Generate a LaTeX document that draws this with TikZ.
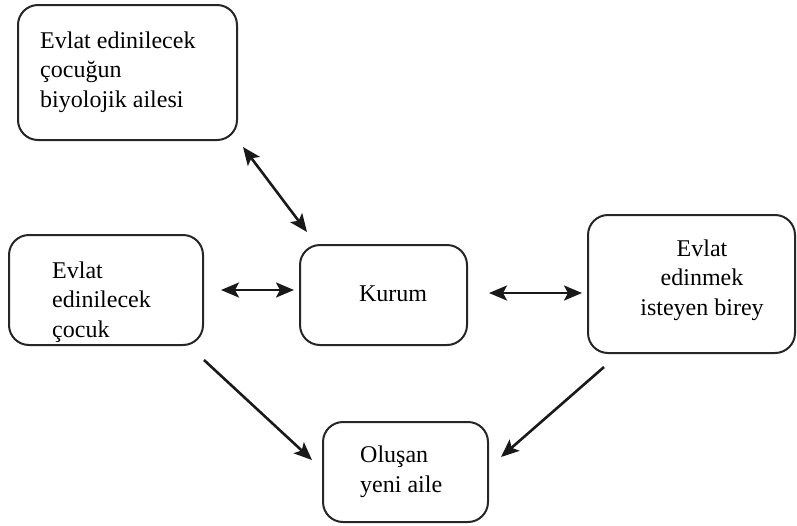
\documentclass[tikz,border=0pt]{standalone}
\usepackage{fontspec}
\setmainfont{Liberation Serif}
\usetikzlibrary{arrows.meta}
\begin{document}
\begin{tikzpicture}[x=1pt,y=-1pt,
  box/.style={draw=black!85, line width=2pt, rounded corners=20pt, inner sep=0pt},
  txt/.style={inner sep=0pt, align=left, font=\fontsize{24}{29.5}\selectfont},
  ctxt/.style={inner sep=0pt, align=center, font=\fontsize{24}{29.5}\selectfont},
  tip/.tip={Stealth[length=18pt,width=15pt,inset=4pt]},
  conn/.style={line width=2.6pt, black!90, -tip},
  bconn/.style={line width=2.6pt, black!90, tip-tip}]
\useasboundingbox (0,0) rectangle (797,525);
% boxes
\draw[box] (18,5) rectangle (237,140);
\draw[box] (9,235) rectangle (203,345);
\draw[box] (300,245) rectangle (467,345);
\draw[box] (588,215) rectangle (795,353);
\draw[box] (323,422) rectangle (488,522);
% texts (base anchor = baseline of last line)
\node[txt, anchor=base west] (tbio) at (40,107) {Evlat edinilecek\\çocuğun\\biyolojik ailesi};
\node[txt, anchor=base west] (tleft) at (52,337) {Evlat\\edinilecek\\çocuk};
\node[txt, anchor=base] (tkurum) at (393,301) {Kurum};
\node[ctxt, anchor=base] (tright) at (702,315) {Evlat\\edinmek\\isteyen birey};
\node[txt, anchor=base west] (tnew) at (360,492) {Oluşan\\yeni aile};
% connector endpoints
\coordinate (a1) at (243,147); \coordinate (a2) at (307,232);
\coordinate (b1) at (221,290); \coordinate (b2) at (294,290);
\coordinate (c1) at (489,293); \coordinate (c2) at (582,293);
\coordinate (d1) at (204,360); \coordinate (d2) at (312,460);
\coordinate (e1) at (604,367); \coordinate (e2) at (501,457);
\draw[bconn] (a1) -- (a2);
\draw[bconn] (b1) -- (b2);
\draw[bconn] (c1) -- (c2);
\draw[conn] (d1) -- (d2);
\draw[conn] (e1) -- (e2);
\end{tikzpicture}
\end{document}
